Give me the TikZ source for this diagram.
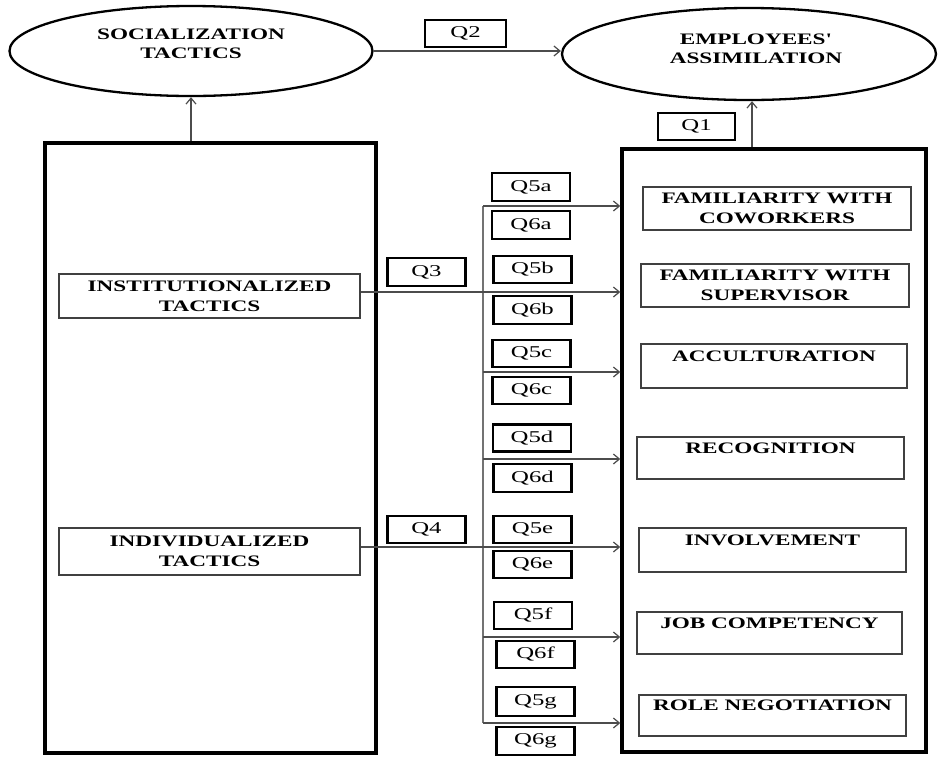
\documentclass[tikz,border=0pt]{standalone}
\usepackage{fontspec}
\usetikzlibrary{shapes.geometric,arrows.meta,calc}
\newfontfamily\lblfont{Liberation Serif}[FakeStretch=1.45]
\newfontfamily\qfont{Liberation Serif}[FakeStretch=1.5]
\begin{document}
\begin{tikzpicture}[x=1pt,y=-1pt,
  ellip/.style={draw,ellipse,line width=2.3pt,inner sep=0pt},
  bigbox/.style={draw,line width=3.4pt,inner sep=0pt},
  inbox/.style={draw=black!75,line width=1.6pt,inner sep=0pt,align=center,
    font=\lblfont\bfseries\fontsize{16}{20}\selectfont},
  headtxt/.style={align=center,inner sep=0pt,font=\lblfont\bfseries\fontsize{16}{19}\selectfont},
  qbox/.style={draw,line width=2.5pt,inner sep=0pt,minimum width=78pt,minimum height=27pt,
    font=\qfont\fontsize{16.5}{18}\selectfont},
  conn/.style={draw=black!70,line width=1.2pt,-{Straight Barb[length=6pt,width=10pt]}},
  trunk/.style={draw=black!55,line width=1.8pt}]
\useasboundingbox (0,0) rectangle (940,756);

% ellipses
\node[ellip,minimum width=363pt,minimum height=90pt] (LE) at (191,51) {};
\node[headtxt] (LEt) at (191,44) {SOCIALIZATION\\TACTICS};
\node[ellip,minimum width=374pt,minimum height=92pt] (RE) at (749,54) {};
\node[headtxt] (REt) at (756,48.5) {EMPLOYEES'\\ASSIMILATION};

% big boxes
\node[bigbox,minimum width=331pt,minimum height=610pt] (LB) at (210.5,448) {};
\node[bigbox,minimum width=304pt,minimum height=603pt] (RB) at (774,450.5) {};

% left inner boxes
\node[inbox,minimum width=301pt,minimum height=44pt] (L1) at (209.5,296) {INSTITUTIONALIZED\\TACTICS};
\node[inbox,minimum width=301pt,minimum height=47pt] (L2) at (209.5,551.5) {INDIVIDUALIZED\\TACTICS};

% right inner boxes
\node[inbox,minimum width=268pt,minimum height=43pt] (R1) at (777,208.5) {FAMILIARITY WITH\\COWORKERS};
\node[inbox,minimum width=268pt,minimum height=43pt] (R2) at (775,285.5) {FAMILIARITY WITH\\SUPERVISOR};
\node[inbox,minimum width=266pt,minimum height=44pt] (R3) at (774,366) {ACCULTURATION\\ \mbox{}};
\node[inbox,minimum width=267pt,minimum height=42pt] (R4) at (770.5,458) {RECOGNITION\\ \mbox{}};
\node[inbox,minimum width=267pt,minimum height=44pt] (R5) at (772.5,550) {INVOLVEMENT\\ \mbox{}};
\node[inbox,minimum width=265pt,minimum height=42pt] (R6) at (769.5,633) {JOB COMPETENCY\\ \mbox{}};
\node[inbox,minimum width=267pt,minimum height=41pt] (R7) at (772.5,715.5) {ROLE NEGOTIATION\\ \mbox{}};

% Q boxes
\node[qbox,minimum width=81pt] (Q2) at (465.5,33.5) {Q2};
\node[qbox,minimum width=77pt] (Q1) at (696.5,126.5) {Q1};
\node[qbox,minimum height=28pt] (Q3) at (426.5,272) {Q3};
\node[qbox] (Q4) at (426.5,529.5) {Q4};
\node[qbox,minimum height=28pt] (Q5a) at (531,187) {Q5a};
\node[qbox,minimum height=28pt] (Q6a) at (531,225) {Q6a};
\node[qbox] (Q5b) at (532.5,269.5) {Q5b};
\node[qbox,minimum height=28pt] (Q6b) at (532.5,310) {Q6b};
\node[qbox] (Q5c) at (531.5,353.5) {Q5c};
\node[qbox] (Q6c) at (531.5,390.5) {Q6c};
\node[qbox] (Q5d) at (532,438) {Q5d};
\node[qbox,minimum height=28pt] (Q6d) at (532.5,478) {Q6d};
\node[qbox] (Q5e) at (532.5,529.5) {Q5e};
\node[qbox] (Q6e) at (532.5,564.5) {Q6e};
\node[qbox] (Q5f) at (533,615.5) {Q5f};
\node[qbox] (Q6f) at (535.5,654.5) {Q6f};
\node[qbox,minimum height=29pt] (Q5g) at (535.5,701.5) {Q5g};
\node[qbox,minimum height=28pt] (Q6g) at (535.5,741) {Q6g};

% top connectors
\draw[conn] (LE.east) -- (LE.east -| RE.west);
\draw[conn] (LE.south |- LB.north) -- (LE.south);
\draw[conn] ([xshift=3pt]RE.south |- RB.north) -- ([xshift=3pt]RE.south);

% trunk
\coordinate (ta) at (483,206);
\coordinate (tc) at (483,372);
\coordinate (td) at (483,459);
\coordinate (tf) at (483,637);
\coordinate (tg) at (483,723);
\draw[trunk] (ta) -- (tg);

% branch arrows
\draw[conn] (ta) -- (ta -| RB.west);
\draw[conn] (tc) -- (tc -| RB.west);
\draw[conn] (td) -- (td -| RB.west);
\draw[conn] (tf) -- (tf -| RB.west);
\draw[conn] (tg) -- (tg -| RB.west);

% tactics arrows
\draw[conn] ([yshift=4pt]L1.east) -- ([yshift=4pt]L1.east -| RB.west);
\draw[conn] ([yshift=4.5pt]L2.east) -- ([yshift=4.5pt]L2.east -| RB.west);
\end{tikzpicture}
\end{document}
